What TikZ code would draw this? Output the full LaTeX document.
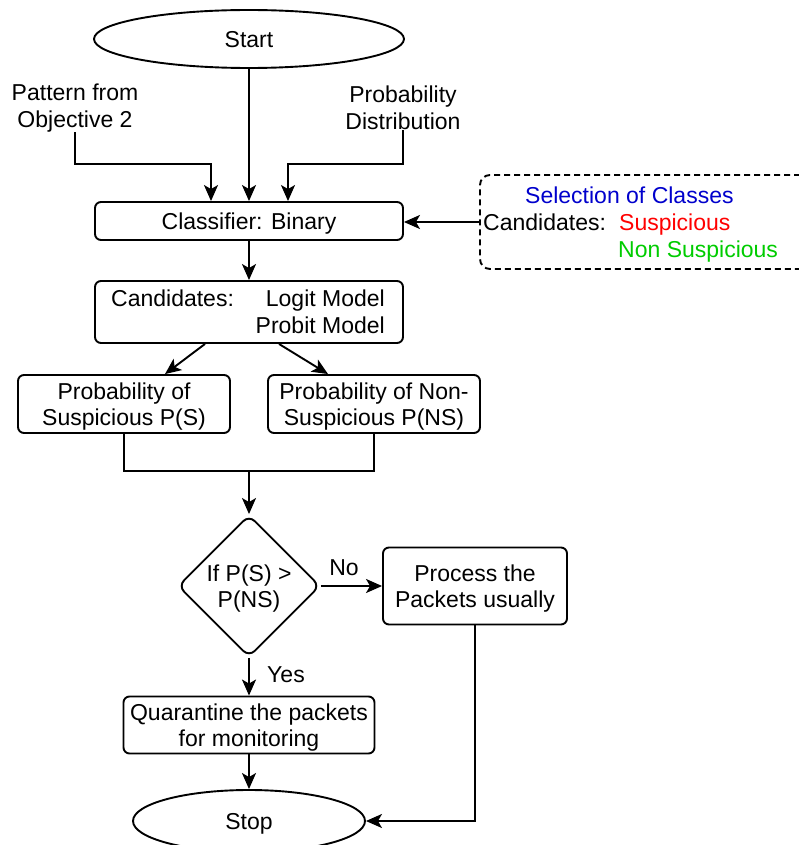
\documentclass[tikz,border=0pt]{standalone}
\usepackage{fontspec}
\setmainfont{Liberation Sans}
\usetikzlibrary{shapes.geometric,arrows.meta}
\definecolor{selblue}{RGB}{0,0,204}
\definecolor{selred}{RGB}{255,0,0}
\definecolor{selgreen}{RGB}{0,204,0}
\begin{document}
\begin{tikzpicture}[x=1pt,y=-1pt,
  every node/.style={font=\fontsize{23}{26.5}\selectfont, inner sep=0pt},
  box/.style={draw, line width=1.9pt, rounded corners=6pt, align=center, text depth=0pt},
  oval/.style={draw, line width=1.9pt, ellipse, text depth=0pt},
  dec/.style={draw, line width=1.9pt, diamond, rounded corners=8pt, align=center, text depth=0pt,
              minimum width=142pt, minimum height=142pt, aspect=1},
  selbox/.style={draw, line width=1.9pt, dash pattern=on 6pt off 4pt, rounded corners=10pt},
  lbl/.style={align=center},
  conn/.style={line width=1.9pt},
  arr/.style={conn, -{Stealth[length=16pt,width=14pt,inset=4pt]}}]
\useasboundingbox (0,0) rectangle (798,845);

% terminals and inputs
\node[oval, minimum width=310pt, minimum height=58pt] (start) at (249,39) {Start};
\node[lbl] (pat) at (75,108) {Pattern from\\Objective 2};
\node[lbl] (prob) at (403,108) {Probability\\Distribution};

% classifier
\node[box, minimum width=308pt, minimum height=38pt] (cls) at (249,221) {Classifier: Binary};

% class selection panel
\node[selbox, minimum width=340pt, minimum height=94pt] (sel) at (650,222) {};
\node[anchor=base west, text=selblue] (selt) at (525,203) {Selection of Classes};
\node[anchor=base west] (selc) at (483,230) {Candidates:};
\node[anchor=base west, text=selred] (sels) at (619,230) {Suspicious};
\node[anchor=base west, text=selgreen] (seln) at (618,257) {Non Suspicious};

% model candidates
\node[box, minimum width=308pt, minimum height=62pt] (cand) at (249,312) {};
\node[anchor=base west] (candl) at (111,306) {Candidates:};
\node[anchor=base east] (logit) at (385,306) {Logit Model};
\node[anchor=base east] (probit) at (385,333) {Probit Model};

% probabilities
\node[box, minimum width=212pt, minimum height=58pt] (ps) at (124,404) {Probability of\\Suspicious P(S)};
\node[box, minimum width=212pt, minimum height=58pt] (pns) at (374,404) {Probability of Non-\\Suspicious P(NS)};
\coordinate (mrg) at (249,471);

% decision and outcomes
\node[dec] (dec) at (249,586) {If P(S) >\\P(NS)};
\node[box, minimum width=184pt, minimum height=77pt] (proc) at (475,586) {Process the\\Packets usually};
\node[box, minimum width=251pt, minimum height=57pt] (quar) at (249,725) {Quarantine the packets\\for monitoring};
\node[oval, minimum width=232pt, minimum height=62pt] (stop) at (249,821) {Stop};
\node (no) at (344,568) {No};
\node (yes) at (286,675) {Yes};

% connectors
\coordinate (patk) at (211,164);
\coordinate (probk) at (288,164);
\draw[arr] (start.south) -- (cls.north);
\draw[arr] (pat.south) |- (patk) -- (patk |- cls.north);
\draw[arr] (prob.south) |- (probk) -- (probk |- cls.north);
\draw[arr] (sel.west) -- (sel.west -| cls.east);
\draw[arr] (cls.south) -- (cand.north);
\draw[arr] ([xshift=-44pt]cand.south) -- ([xshift=41pt]ps.north);
\draw[arr] ([xshift=30pt]cand.south) -- ([xshift=-46pt]pns.north);
\draw[conn] (ps.south) |- (mrg) -| (pns.south);
\draw[arr] (mrg) -- (dec.north);
\draw[arr] (dec.east) -- (proc.west);
\draw[arr] (dec.south) -- (quar.north);
\draw[arr] (quar.south) -- (stop.north);
\draw[arr] (proc.south) |- (stop.east);
\end{tikzpicture}
\end{document}
